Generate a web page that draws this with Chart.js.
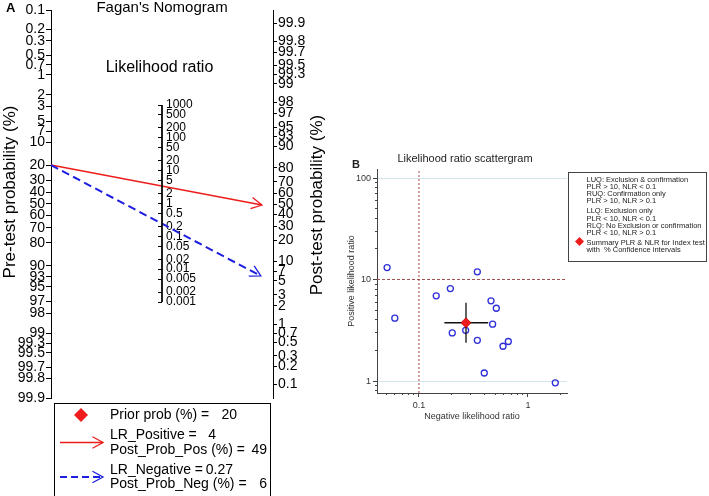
<!DOCTYPE html>
<html>
<head>
<meta charset="utf-8">
<script src="https://cdn.jsdelivr.net/npm/chart.js@4.4.0/dist/chart.umd.min.js"></script>
<style>
  html, body { margin: 0; padding: 0; background: #fff; }
  #wrap { position: relative; width: 709px; height: 496px; overflow: hidden; }
  canvas { position: absolute; }
  #fagan { left: 0; top: 0; }
  #scatter { left: 340px; top: 140px; }
</style>
</head>
<body>
<div id="wrap">
  <canvas id="fagan" width="340" height="496"></canvas>
  <canvas id="scatter" width="369" height="300"></canvas>
</div>
<script>
// ---- Fagan nomogram values ----
var priorProb = 20;
var lrPositive = 4;
var postProbPos = 49;
var lrNegative = 0.27;
var postProbNeg = 6;

var probTicks = [0.1, 0.2, 0.3, 0.5, 0.7, 1, 2, 3, 5, 7, 10, 20, 30, 40, 50, 60, 70, 80, 90, 93, 95, 97, 98, 99, 99.3, 99.5, 99.7, 99.8, 99.9];
var lrTicks = [1000, 500, 200, 100, 50, 20, 10, 5, 2, 1, 0.5, 0.2, 0.1, 0.05, 0.02, 0.01, 0.005, 0.002, 0.001];

// ---- Likelihood ratio scattergram values ----
var studyNLR = [0.051, 0.060, 0.144, 0.194, 0.343, 0.202, 0.268, 0.343, 0.458, 0.512, 0.474, 0.59, 0.66, 0.397, 1.78];
var studyPLR = [13.1, 4.16, 6.9, 8.15, 11.9, 2.98, 3.16, 2.52, 6.17, 5.21, 3.63, 2.2, 2.45, 1.2, 0.96];
var summaryNLR = 0.27;
var summaryPLR = 3.75;
var nlrCI = [0.171, 0.432];
var plrCI = [2.38, 5.89];
var nlrCut = 0.1;
var plrCut = 10;
var nlrTicks = [0.1, 1];
var plrTicks = [1, 10, 100];
var nlrMinorTicks = [0.05, 0.06, 0.07, 0.08, 0.09, 0.2, 0.3, 0.4, 0.5, 0.6, 0.7, 0.8, 0.9, 2];
var plrMinorTicks = [0.8, 0.9, 2, 3, 4, 5, 6, 7, 8, 9, 20, 30, 40, 50, 60, 70, 80, 90];
var nlrRange = [0.0412, 2.28];
var plrRange = [0.762, 122.7];

var quadrantNotes = [
  ['LUQ: Exclusion & confirmation', 'PLR > 10, NLR < 0.1', 'RUQ: Confirmation only', 'PLR > 10, NLR > 0.1'],
  ['LLQ: Exclusion only', 'PLR < 10, NLR < 0.1', 'RLQ: No Exclusion or confirmation', 'PLR < 10, NLR > 0.1'],
  ['Summary PLR & NLR for Index test', 'with  % Confidence intervals']
];

Chart.defaults.font.family = '"Liberation Sans", Arial, sans-serif';
Chart.defaults.color = '#000';

function logit(p) { return Math.log(p / (100 - p)); }

function drawArrow(ctx, x0, y0, x1, y1, color, dash, width) {
  var ang = Math.atan2(y1 - y0, x1 - x0);
  ctx.save();
  ctx.strokeStyle = color;
  ctx.lineWidth = width;
  ctx.setLineDash(dash);
  ctx.beginPath();
  ctx.moveTo(x0, y0);
  ctx.lineTo(x1, y1);
  ctx.stroke();
  ctx.setLineDash([]);
  ctx.lineWidth = 1.3;
  ctx.beginPath();
  ctx.moveTo(x1 - 12 * Math.cos(ang - 0.5), y1 - 12 * Math.sin(ang - 0.5));
  ctx.lineTo(x1, y1);
  ctx.lineTo(x1 - 12 * Math.cos(ang + 0.5), y1 - 12 * Math.sin(ang + 0.5));
  ctx.stroke();
  ctx.restore();
}

function diamond(ctx, x, y, r, color) {
  ctx.save();
  ctx.fillStyle = color;
  ctx.beginPath();
  ctx.moveTo(x - r, y); ctx.lineTo(x, y - r); ctx.lineTo(x + r, y); ctx.lineTo(x, y + r);
  ctx.closePath();
  ctx.fill();
  ctx.restore();
}

function text(ctx, str, x, y, font, align, rot) {
  ctx.save();
  ctx.font = font;
  ctx.fillStyle = ctx.fillStyle;
  ctx.textAlign = align || 'left';
  ctx.textBaseline = 'middle';
  ctx.translate(x, y);
  if (rot) ctx.rotate(rot);
  ctx.fillText(str, 0, 0);
  ctx.restore();
}

var FONT = '"Liberation Sans", Arial, sans-serif';
var redCol = '#ee1c1c';
var blueCol = '#1e1ee0';
var arrowTipPos = 0.95;
var arrowTipNeg = 0.945;

var faganPlugin = {
  id: 'faganExtras',
  beforeDatasetsDraw: function (chart) {
    var ctx = chart.ctx, s = chart.scales;
    var x0 = s.x.getPixelForValue(0);
    var y0 = s.pre.getPixelForValue(logit(priorProb));
    drawArrow(ctx, x0, y0, s.x.getPixelForValue(arrowTipPos), s.post.getPixelForValue(logit(postProbPos)), redCol, [], 1.5);
    drawArrow(ctx, x0, y0, s.x.getPixelForValue(arrowTipNeg), s.post.getPixelForValue(logit(postProbNeg)), blueCol, [8, 4.5], 2);
  },
  afterDraw: function (chart) {
    var ctx = chart.ctx;
    ctx.fillStyle = '#000';
    text(ctx, 'A', 6, 8, 'bold 13px ' + FONT);
    text(ctx, "Fagan's Nomogram", 162, 8, '15px ' + FONT, 'center');
    text(ctx, 'Likelihood ratio', 159.5, 68, '16px ' + FONT, 'center');
    text(ctx, 'Pre-test probability (%)', 10, 192, '17px ' + FONT, 'center', -Math.PI / 2);
    text(ctx, 'Post-test probability (%)', 317, 205, '17px ' + FONT, 'center', -Math.PI / 2);

    // legend box
    ctx.save();
    ctx.strokeStyle = '#000';
    ctx.lineWidth = 1;
    ctx.strokeRect(54.5, 403.5, 216, 100);
    ctx.restore();
    var f = '14px ' + FONT;
    diamond(ctx, 81, 415, 7, redCol);
    text(ctx, 'Prior prob (%) =', 110, 415, f);
    text(ctx, String(priorProb), 237, 415, f, 'right');
    drawArrow(ctx, 60, 442.5, 103, 442.5, redCol, [], 1.5);
    text(ctx, 'LR_Positive =', 110, 435, f);
    text(ctx, String(lrPositive), 216, 435, f, 'right');
    text(ctx, 'Post_Prob_Pos (%) =', 110, 450, f);
    text(ctx, String(postProbPos), 267, 450, f, 'right');
    drawArrow(ctx, 60, 477, 103, 477, blueCol, [7, 4], 2);
    text(ctx, 'LR_Negative =', 110, 470, f);
    text(ctx, String(lrNegative), 233, 470, f, 'right');
    text(ctx, 'Post_Prob_Neg (%) =', 110, 484, f);
    text(ctx, String(postProbNeg), 267, 484, f, 'right');
  }
};

function noPad(s) { s.paddingTop = 0; s.paddingBottom = 0; s.paddingLeft = 0; s.paddingRight = 0; }

new Chart(document.getElementById('fagan'), {
  type: 'scatter',
  data: {
    datasets: [
      {
        label: 'Prior prob',
        data: [{ x: 0, y: logit(priorProb) }],
        xAxisID: 'x', yAxisID: 'pre',
        pointStyle: 'rectRot', pointRadius: 7,
        backgroundColor: redCol, borderColor: redCol, borderWidth: 0,
        clip: false
      },
      {
        label: 'LR axis',
        data: [{ x: 0.5, y: lrTicks[0] }, { x: 0.5, y: lrTicks[lrTicks.length - 1] }],
        xAxisID: 'x', yAxisID: 'lr',
        showLine: true, pointRadius: 0, borderColor: '#000', borderWidth: 1,
        clip: false
      }
    ]
  },
  options: {
    responsive: false,
    animation: false,
    layout: { padding: { left: 0, right: 13, top: 10, bottom: 98 } },
    plugins: { legend: { display: false }, tooltip: { enabled: false } },
    scales: {
      x: { type: 'linear', display: false, min: 0.5, max: 1 },
      pre: {
        type: 'linear', position: 'left', weight: 2, reverse: true,
        min: logit(0.1), max: logit(99.9),
        afterBuildTicks: function (s) { s.ticks = probTicks.map(function (p) { return { value: logit(p) }; }); },
        afterFit: function (s) { s.width = 51; noPad(s); },
        ticks: { autoSkip: false, padding: 1, font: { size: 14 }, color: '#000',
          callback: function (v, i) { return String(probTicks[i]); } },
        grid: { drawOnChartArea: false, tickLength: 5, color: '#000' },
        border: { color: '#000', width: 1 }
      },
      lr: {
        type: 'logarithmic', position: 'left', weight: 1,
        min: Math.pow(10, -5.924), max: Math.pow(10, 5.894),
        afterBuildTicks: function (s) { s.ticks = lrTicks.map(function (v) { return { value: v }; }); },
        afterFit: function (s) { s.width = 111; noPad(s); },
        ticks: { autoSkip: false, mirror: true, padding: 4, font: { size: 12 }, color: '#000',
          callback: function (v, i) { return String(lrTicks[i]); } },
        grid: { drawOnChartArea: false, tickLength: 4, color: '#000' },
        border: { display: false }
      },
      post: {
        type: 'linear', position: 'right',
        min: -7.42, max: 7.42,
        afterBuildTicks: function (s) { s.ticks = probTicks.map(function (p) { return { value: logit(p) }; }); },
        afterFit: function (s) { s.width = 54; noPad(s); },
        ticks: { autoSkip: false, padding: 1, font: { size: 14 }, color: '#000',
          callback: function (v, i) { return String(probTicks[i]); } },
        grid: { drawOnChartArea: false, tickLength: 4, color: '#000' },
        border: { color: '#000', width: 1 }
      }
    }
  },
  plugins: [faganPlugin]
});

// ---- scattergram ----
var scatterPlugin = {
  id: 'scatterExtras',
  afterDraw: function (chart) {
    var ctx = chart.ctx;
    ctx.fillStyle = '#222';
    text(ctx, 'B', 12, 24.5, 'bold 11px ' + FONT);
    text(ctx, 'Likelihood ratio scattergram', 125, 19, '11px ' + FONT, 'center');
    ctx.save();
    ctx.strokeStyle = '#444';
    ctx.lineWidth = 1;
    ctx.strokeRect(228.5, 32.5, 138, 89);
    ctx.restore();
    var f = '7.5px ' + FONT;
    var y = 39.5;
    ctx.fillStyle = '#222';
    quadrantNotes.forEach(function (group, gi) {
      group.forEach(function (line) {
        text(ctx, line, 246.5, y, f);
        y += 7.3;
      });
      y += 2.6;
    });
    diamond(ctx, 239.5, 101.5, 4.5, redCol);
  }
};

var minorOpts = {
  ticks: { display: false },
  grid: { drawOnChartArea: false, tickLength: 2, color: '#444' },
  border: { display: false }
};

new Chart(document.getElementById('scatter'), {
  type: 'scatter',
  data: {
    datasets: [
      {
        label: 'Summary',
        data: [{ x: summaryNLR, y: summaryPLR }],
        xAxisID: 'x', yAxisID: 'y',
        pointStyle: 'rectRot', pointRadius: 5,
        backgroundColor: redCol, borderColor: '#c00000', borderWidth: 0.8,
        order: 0
      },
      {
        label: 'NLR CI',
        data: [{ x: nlrCI[0], y: summaryPLR }, { x: nlrCI[1], y: summaryPLR }],
        xAxisID: 'x', yAxisID: 'y',
        showLine: true, pointRadius: 0, borderColor: '#111', borderWidth: 1.3,
        order: 1
      },
      {
        label: 'PLR CI',
        data: [{ x: summaryNLR, y: plrCI[0] }, { x: summaryNLR, y: plrCI[1] }],
        xAxisID: 'x', yAxisID: 'y',
        showLine: true, pointRadius: 0, borderColor: '#111', borderWidth: 1.3,
        order: 1
      },
      {
        label: 'Studies',
        data: studyNLR.map(function (v, i) { return { x: v, y: studyPLR[i] }; }),
        xAxisID: 'x', yAxisID: 'y',
        pointStyle: 'circle', pointRadius: 3,
        backgroundColor: 'rgba(0,0,0,0)', borderColor: '#2e2ed8', borderWidth: 1.3,
        order: 2
      },
      {
        label: 'NLR cut',
        data: [{ x: nlrCut, y: plrRange[0] }, { x: nlrCut, y: plrRange[1] }],
        xAxisID: 'x', yAxisID: 'y',
        showLine: true, pointRadius: 0, borderColor: '#b04848', borderWidth: 1, borderDash: [2, 2],
        order: 3
      },
      {
        label: 'PLR cut',
        data: [{ x: nlrRange[0], y: plrCut }, { x: nlrRange[1], y: plrCut }],
        xAxisID: 'x', yAxisID: 'y',
        showLine: true, pointRadius: 0, borderColor: '#a05050', borderWidth: 1, borderDash: [3, 2],
        order: 3
      }
    ]
  },
  options: {
    responsive: false,
    animation: false,
    layout: { padding: { left: 3, right: 142, top: 29, bottom: 14 } },
    plugins: { legend: { display: false }, tooltip: { enabled: false } },
    scales: {
      x: {
        type: 'logarithmic', position: 'bottom', axis: 'x',
        min: nlrRange[0], max: nlrRange[1],
        afterBuildTicks: function (s) { s.ticks = nlrTicks.map(function (v) { return { value: v }; }); },
        afterFit: function (s) { s.height = 33; noPad(s); },
        ticks: { autoSkip: false, maxRotation: 0, padding: 3, font: { size: 9 }, color: '#333',
          callback: function (v, i) { return String(nlrTicks[i]); } },
        grid: { drawOnChartArea: false, tickLength: 4, color: '#444' },
        border: { color: '#444', width: 1 },
        title: { display: true, text: 'Negative likelihood ratio', font: { size: 9 }, color: '#333', padding: { top: 0, bottom: 3.6 } }
      },
      y: {
        type: 'logarithmic', position: 'left', axis: 'y',
        min: plrRange[0], max: plrRange[1],
        afterBuildTicks: function (s) { s.ticks = plrTicks.map(function (v) { return { value: v }; }); },
        afterFit: function (s) { s.width = 34; noPad(s); },
        ticks: { autoSkip: false, padding: 2, font: { size: 9 }, color: '#333',
          callback: function (v, i) { return String(plrTicks[i]); } },
        grid: {
          drawOnChartArea: true, tickLength: 4, tickColor: '#444',
          color: function (c) { return c.tick && c.tick.value === plrCut ? 'rgba(0,0,0,0)' : '#d3e4ea'; }
        },
        border: { color: '#444', width: 1 },
        title: { display: true, text: 'Positive likelihood ratio', font: { size: 9 }, color: '#333', padding: { top: 3.6, bottom: 0 } }
      },
      xMinor: Object.assign({
        type: 'logarithmic', axis: 'x', position: { y: plrRange[0] },
        min: nlrRange[0], max: nlrRange[1],
        afterBuildTicks: function (s) { s.ticks = nlrMinorTicks.map(function (v) { return { value: v }; }); }
      }, minorOpts),
      yMinor: Object.assign({
        type: 'logarithmic', axis: 'y', position: { x: nlrRange[0] },
        min: plrRange[0], max: plrRange[1],
        afterBuildTicks: function (s) { s.ticks = plrMinorTicks.map(function (v) { return { value: v }; }); }
      }, minorOpts)
    }
  },
  plugins: [scatterPlugin]
});
</script>
</body>
</html>
